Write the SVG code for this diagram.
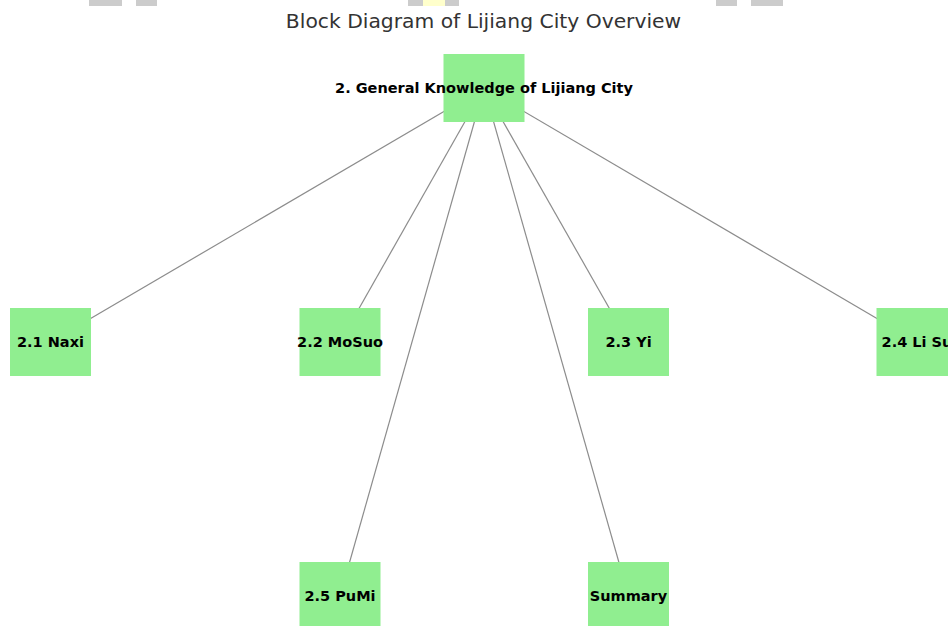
<svg xmlns="http://www.w3.org/2000/svg" width="948" height="626" viewBox="0 0 948 626">
<style>
.node rect{fill:#90ee90;}
.node text{font-family:"DejaVu Sans",sans-serif;font-weight:bold;font-size:14.5px;fill:#000;text-anchor:middle;dominant-baseline:central;}
.edge{stroke:#8c8c8c;stroke-width:1.2;fill:none;}
.title{font-family:"DejaVu Sans",sans-serif;font-size:20.3px;fill:#333;text-anchor:middle;}
.strip-g{fill:#cccccc;}
.strip-y{fill:#ffffcc;}
</style>
<rect width="948" height="626" fill="#ffffff"/>
<g id="top-strip">
<rect class="strip-g" x="89" y="0" width="33" height="6"/>
<rect class="strip-g" x="136" y="0" width="21" height="6"/>
<rect class="strip-g" x="408" y="0" width="15" height="6"/>
<rect class="strip-y" x="423" y="0" width="22" height="6"/>
<rect class="strip-g" x="445" y="0" width="14" height="6"/>
<rect class="strip-g" x="716" y="0" width="21" height="6"/>
<rect class="strip-g" x="751" y="0" width="32" height="6"/>
</g>
<text class="title" x="483.5" y="28">Block Diagram of Lijiang City Overview</text>
<g id="connectors">
<line class="edge" x1="484" y1="88" x2="50.5" y2="342"/>
<line class="edge" x1="484" y1="88" x2="340" y2="342"/>
<line class="edge" x1="484" y1="88" x2="628.5" y2="342"/>
<line class="edge" x1="484" y1="88" x2="917" y2="342"/>
<line class="edge" x1="484" y1="88" x2="340" y2="596"/>
<line class="edge" x1="484" y1="88" x2="628.5" y2="596"/>
</g>
<g id="n-root" class="node"><rect x="443.5" y="54" width="81" height="68"/><text x="484" y="88">2. General Knowledge of Lijiang City</text></g>
<g id="n-naxi" class="node"><rect x="10" y="308" width="81" height="68"/><text x="50.5" y="342">2.1 Naxi</text></g>
<g id="n-mosuo" class="node"><rect x="299.5" y="308" width="81" height="68"/><text x="340" y="342">2.2 MoSuo</text></g>
<g id="n-yi" class="node"><rect x="588" y="308" width="81" height="68"/><text x="628.5" y="342">2.3 Yi</text></g>
<g id="n-lisu" class="node"><rect x="876.5" y="308" width="81" height="68"/><text x="917" y="342">2.4 Li Su</text></g>
<g id="n-pumi" class="node"><rect x="299.5" y="562" width="81" height="68"/><text x="340" y="596">2.5 PuMi</text></g>
<g id="n-summary" class="node"><rect x="588" y="562" width="81" height="68"/><text x="628.5" y="596">Summary</text></g>
</svg>
